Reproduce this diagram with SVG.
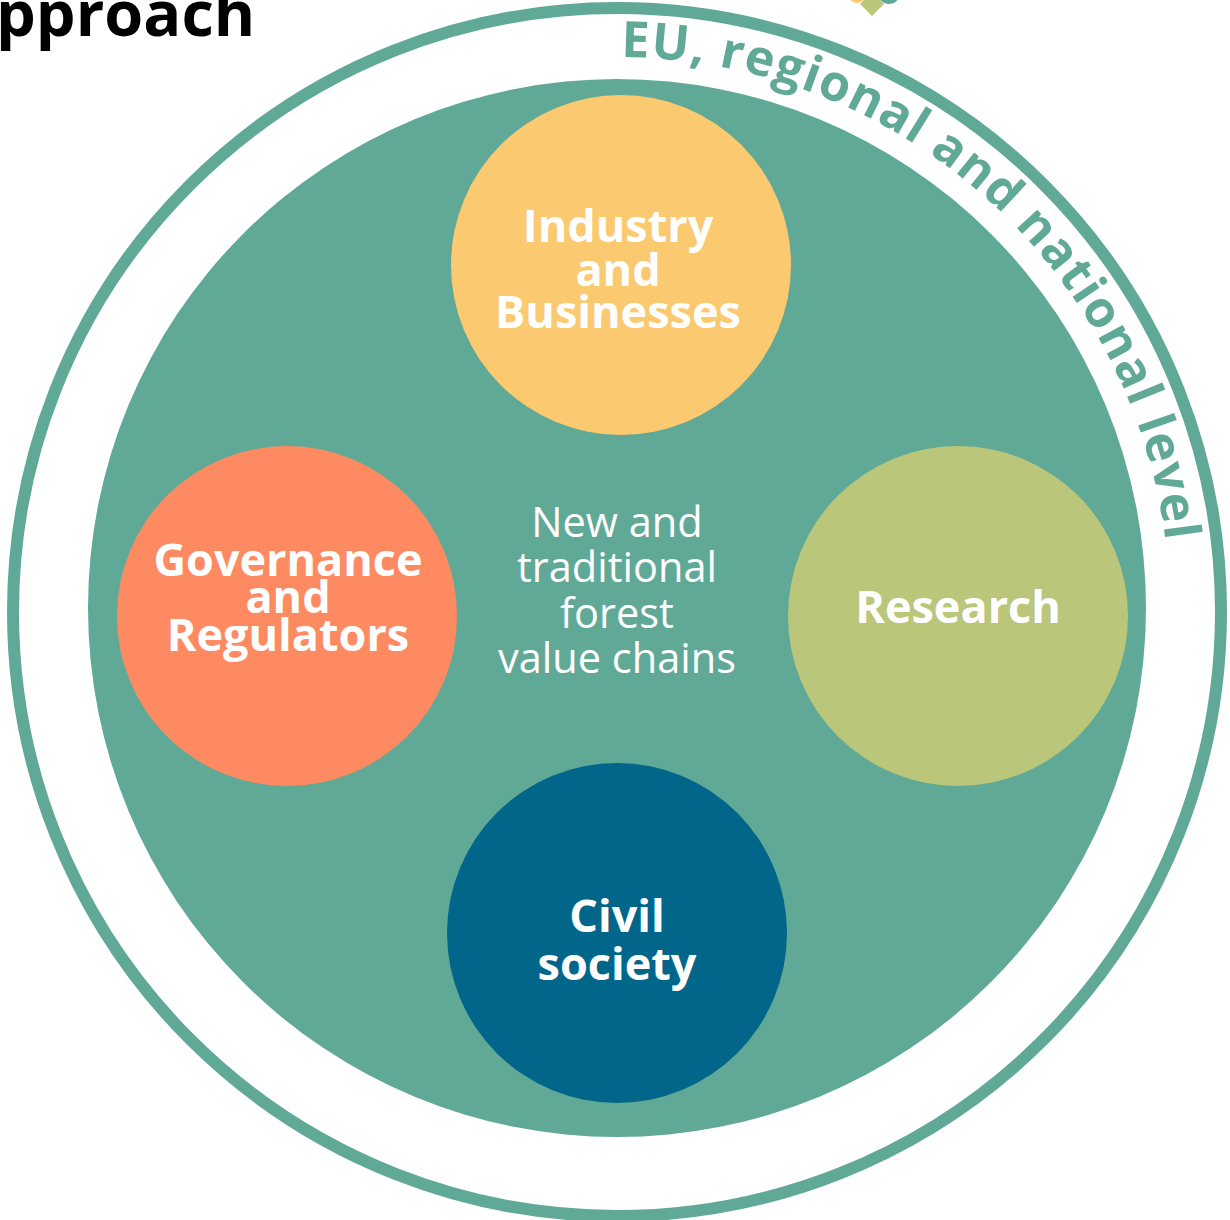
<svg xmlns="http://www.w3.org/2000/svg" width="1230" height="1220" viewBox="0 0 1230 1220">
<defs>
<style>
.lbl{font-family:"Open Sans","Noto Sans","Liberation Sans",sans-serif;font-weight:700;font-size:45px;fill:#ffffff;text-anchor:middle}
.mid{font-family:"Open Sans","Noto Sans","Liberation Sans",sans-serif;font-weight:400;font-size:41.5px;fill:#ffffff;text-anchor:middle}
.arc{font-family:"Open Sans","Noto Sans","Liberation Sans",sans-serif;font-weight:700;font-size:50px;fill:#61a997;letter-spacing:1.2px}
</style>
<path id="arcPath" d="M 617 57 A 553 553 0 0 1 1170 610 A 553 553 0 0 1 617 1163"/>
</defs>
<rect x="0" y="0" width="1230" height="1220" fill="#ffffff"/>
<g id="logo">
<circle cx="857" cy="-6" r="9" fill="#fbc96f"/>
<polygon points="872,-8 884,4 872,16 860,4" fill="#bac679"/>
<circle cx="889" cy="-7" r="11" fill="#61a997"/>
</g>
<text x="-4" y="36" font-family="Open Sans, Noto Sans, Liberation Sans, sans-serif" font-weight="700" font-size="63" fill="#000000">pproach</text>
<g id="outer-ring">
<circle cx="617" cy="612" r="604" fill="none" stroke="#61a997" stroke-width="12"/>
<text class="arc"><textPath href="#arcPath" startOffset="4">EU, regional and national level</textPath></text>
</g>
<g id="value-chains">
<circle cx="617" cy="608" r="529" fill="#61a997"/>
<text class="mid" x="617" y="537">New and</text>
<text class="mid" x="617" y="582">traditional</text>
<text class="mid" x="617" y="628">forest</text>
<text class="mid" x="617" y="673">value chains</text>
</g>
<g id="industry">
<circle cx="621" cy="265" r="170" fill="#fbc96f"/>
<text class="lbl" x="618" y="242">Industry</text>
<text class="lbl" x="618" y="286">and</text>
<text class="lbl" x="618" y="328">Businesses</text>
</g>
<g id="governance">
<circle cx="287" cy="616" r="170" fill="#fe8a61"/>
<text class="lbl" x="288" y="576">Governance</text>
<text class="lbl" x="288" y="613">and</text>
<text class="lbl" x="288" y="651">Regulators</text>
</g>
<g id="research">
<circle cx="958" cy="616" r="170" fill="#bac679"/>
<text class="lbl" x="958" y="623">Research</text>
</g>
<g id="civil-society">
<circle cx="617" cy="933" r="170" fill="#02658a"/>
<text class="lbl" x="617" y="932">Civil</text>
<text class="lbl" x="617" y="980">society</text>
</g>
<g id="connectors"></g>
</svg>
